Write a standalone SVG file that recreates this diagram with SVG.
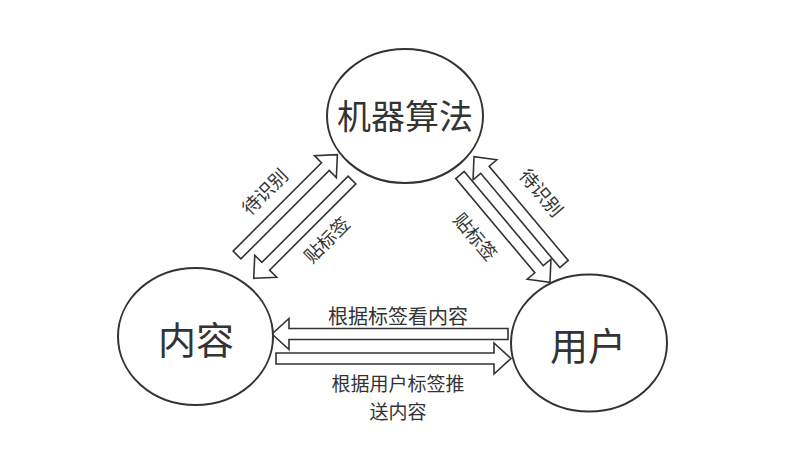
<svg xmlns="http://www.w3.org/2000/svg" width="800" height="449" viewBox="0 0 800 449">
<style>
.node{fill:#fff;stroke:#333;stroke-width:2}
.arr{fill:#fff;stroke:#333;stroke-width:1.6;stroke-linejoin:miter}
.big{font-family:"Noto Sans CJK SC","Noto Sans",sans-serif;fill:#333;text-anchor:middle}
.lbl{font-family:"Noto Sans CJK SC","Noto Sans",sans-serif;fill:#333;font-size:20px;text-anchor:middle}
.lbl2{font-family:"Noto Sans CJK SC","Noto Sans",sans-serif;fill:#333;font-size:19px;text-anchor:middle}
.dlbl{font-family:"Noto Sans CJK SC","Noto Sans",sans-serif;fill:#333;font-size:18.5px;text-anchor:middle}
</style>
<rect width="800" height="449" fill="#fff"/>
<g id="connectors">
<path class="arr" transform="translate(508,334) rotate(180)" d="M0,-5.5 L219,-5.5 L219,-15.5 L236,0 L219,15.5 L219,5.5 L0,5.5 Z"/>
<path class="arr" transform="translate(276,358.5)" d="M0,-5.5 L218,-5.5 L218,-15.5 L235,0 L218,15.5 L218,5.5 L0,5.5 Z"/>
<path class="arr" transform="translate(237,255) rotate(-45)" d="M0,-5.5 L125,-5.5 L125,-15.5 L142,0 L125,15.5 L125,5.5 L0,5.5 Z"/>
<path class="arr" transform="translate(352,180) rotate(135)" d="M0,-5.5 L122,-5.5 L122,-15.5 L139,0 L122,15.5 L122,5.5 L0,5.5 Z"/>
<path class="arr" transform="translate(460,175) rotate(50)" d="M0,-5.5 L123,-5.5 L123,-15.5 L140,0 L123,15.5 L123,5.5 L0,5.5 Z"/>
<path class="arr" transform="translate(564,264) rotate(230)" d="M0,-5.5 L123,-5.5 L123,-15.5 L140,0 L123,15.5 L123,5.5 L0,5.5 Z"/>
<text class="dlbl" transform="translate(265,192) rotate(-45)" y="6.5">待识别</text>
<text class="dlbl" transform="translate(327,240) rotate(-45)" y="6.5">贴标签</text>
<text class="dlbl" transform="translate(541,193) rotate(50)" y="6.5">待识别</text>
<text class="dlbl" transform="translate(475,237) rotate(50)" y="6.5">贴标签</text>
<text class="lbl" x="398" y="324">根据标签看内容</text>
<text class="lbl2" x="398" y="391">根据用户标签推</text>
<text class="lbl2" x="398" y="419">送内容</text>
</g>
<g id="node-algo">
<ellipse class="node" cx="405" cy="116" rx="78" ry="67"/>
<text class="big" x="405" y="129" font-size="34">机器算法</text>
</g>
<g id="node-content">
<ellipse class="node" cx="195.5" cy="336.5" rx="77.5" ry="68.5"/>
<text class="big" x="196" y="354" font-size="38">内容</text>
</g>
<g id="node-user">
<ellipse class="node" cx="589" cy="343" rx="78" ry="68.5"/>
<text class="big" x="588" y="360" font-size="38">用户</text>
</g>
</svg>
